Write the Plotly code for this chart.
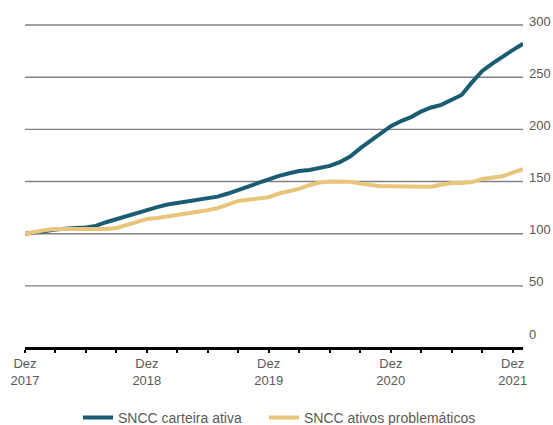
import pandas as pd
import plotly.graph_objects as go

# Monthly index values (Dec 2017 = 100), Dec 2017 - Jan 2022
months = pd.date_range("2017-12-01", periods=50, freq="MS")

carteira_ativa = [
    100, 101, 102.5, 104, 105, 105.5, 106, 107.5, 111, 114,
    117, 120, 123, 125.5, 128, 129.5, 131, 132.5, 134, 135.5,
    138.5, 142, 144.5, 148, 152, 155.5, 158, 160, 161, 162.5,
    165, 168.5, 174, 182, 189, 196, 203, 208, 212, 217,
    221, 223.5, 228, 233, 245, 256, 263, 270, 276, 282,
]

ativos_problematicos = [
    100, 102, 103.5, 104.5, 104.5, 104, 104, 104, 104.5, 105.5,
    108.5, 111.5, 114, 115, 116.5, 117.5, 119, 120.5, 122.5, 124.5,
    128, 131.5, 132.5, 133.5, 135, 138.5, 140.5, 143, 146.5, 149,
    150, 150.2, 149.8, 148, 146.5, 145.5, 145.5, 145.5, 145.2, 145,
    145, 147, 148.5, 148.5, 149.5, 152.5, 154, 155, 158.5, 162,
]

series_names = ["SNCC carteira ativa", "SNCC ativos problemáticos"]
series_colors = ["#1a5d73", "#e8c57b"]
legend_ids = ["legend", "legend2"]
legend_x = [78, 264]  # left edge of each legend entry, px

y_ticks = [0, 50, 100, 150, 200, 250, 300]
grid_levels = [50, 100, 150, 200, 250, 300]

# quarterly ticks, labelled only in December
x_ticks = pd.date_range("2017-12-01", "2021-12-01", freq="3MS")
x_ticktext = [f"Dez<br>{d.year}" if d.month == 12 else "" for d in x_ticks]

W, H = 553, 425

fig = go.Figure()
for name, values, color, lg in zip(series_names,
                                   [carteira_ativa, ativos_problematicos],
                                   series_colors, legend_ids):
    fig.add_trace(go.Scatter(
        x=months, y=values, name=name, mode="lines",
        line=dict(color=color, width=4), legend=lg,
    ))

for level in grid_levels:
    fig.add_shape(type="line", xref="paper", x0=0, x1=1, yref="y",
                  y0=level, y1=level, layer="below",
                  line=dict(color="#808080", width=1.4))

tick_font = dict(family="Liberation Sans, Arial, sans-serif", size=13,
                 color="#595959")
legend_font = dict(family="Liberation Sans, Arial, sans-serif", size=14,
                   color="#595959")

legend_layouts = {
    lg: dict(
        orientation="h", xref="container", yref="container",
        x=lx / W, xanchor="left", y=0.017, yanchor="middle",
        font=legend_font, bgcolor="rgba(0,0,0,0)",
    )
    for lg, lx in zip(legend_ids, legend_x)
}

fig.update_layout(
    width=W, height=H,
    margin=dict(l=25, r=30, t=24, b=78, autoexpand=False),
    paper_bgcolor="white", plot_bgcolor="white",
    showlegend=True,
    xaxis=dict(
        type="date", automargin=False,
        range=[months[0], months[-1]],
        tickvals=list(x_ticks), ticktext=x_ticktext,
        showgrid=False, zeroline=False,
        showline=True, linecolor="black", linewidth=2.5,
        ticks="outside", ticklen=3, tickwidth=2, tickcolor="black",
        tickfont=tick_font, ticklabelstandoff=0,
    ),
    yaxis=dict(
        side="right", automargin=False,
        range=[-8.6, 301],
        tickvals=y_ticks,
        showgrid=False, zeroline=False, showline=False,
        ticks="", tickfont=tick_font,
        ticklabelstandoff=5, ticklabelshift=-4,
    ),
    **legend_layouts,
)

fig.write_html("out.html")
